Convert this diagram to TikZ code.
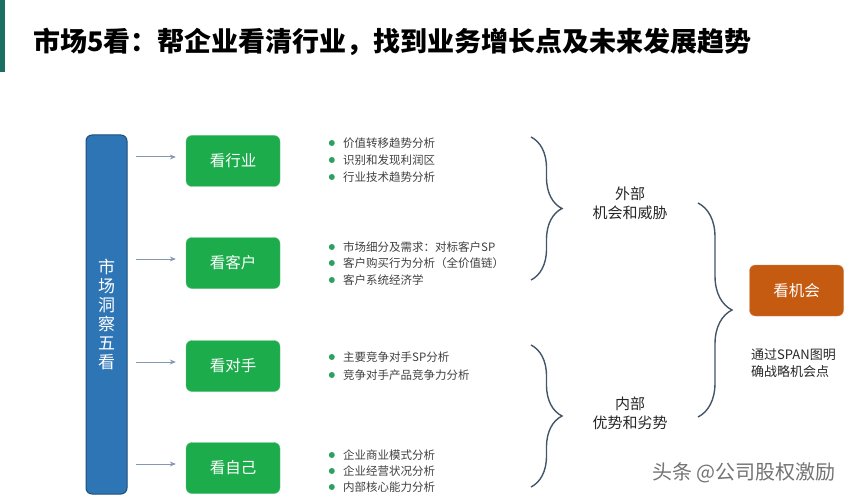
\documentclass[tikz,border=0pt]{standalone}
\usepackage{fontspec}
\setmainfont{Noto Sans CJK SC}
\usetikzlibrary{arrows.meta,calc,decorations.pathreplacing}
\definecolor{barteal}{RGB}{27,111,97}
\definecolor{barblue}{RGB}{46,117,182}
\definecolor{barline}{RGB}{31,78,121}
\definecolor{boxgreen}{RGB}{29,172,76}
\definecolor{dotgreen}{RGB}{46,160,96}
\definecolor{boxorange}{RGB}{197,90,17}
\definecolor{bracegray}{RGB}{68,84,106}
\definecolor{arrowgray}{RGB}{132,150,176}
\definecolor{itemgray}{RGB}{64,64,64}
\begin{document}
\begin{tikzpicture}[x=1pt, y=-1pt,
  look/.style={rectangle, fill=#1, draw=#1!75!white, rounded corners=6pt,
               minimum width=94pt, minimum height=51pt, text=white,
               font=\fontsize{15.5}{18}\selectfont},
  look/.default=boxgreen,
  item/.style={anchor=west, inner sep=0pt, text=itemgray,
               font=\fontsize{11.5}{14}\selectfont,
               label={[circle, fill=dotgreen, inner sep=0pt, minimum size=6pt, xshift=-8pt]left:{}}},
  side/.style={align=center, text=black!85, font=\fontsize{15}{19}\selectfont},
  arr/.style={-{Stealth[length=6pt, width=5pt]}, arrowgray, line width=1pt,
              shorten <=8pt, shorten >=10pt},
  brc/.style={decorate, decoration={brace, amplitude=#1}, bracegray, line width=1.4pt},
  brc/.default=31pt
]
  \useasboundingbox (0,0) rectangle (868,500);
  \fill[barteal] (0,0) rectangle (5,72);
  \node[anchor=west, inner sep=0pt, font=\fontsize{27}{30}\selectfont\bfseries] (title) at (33,42)
    {市场5看：帮企业看清行业，找到业务增长点及未来发展趋势};

  \node[rectangle, fill=barblue, draw=barline, line width=1pt, rounded corners=6pt,
        minimum width=41pt, minimum height=359pt, text=white, align=center,
        font=\fontsize{17}{19}\selectfont] (insight) at (106.5,314.5)
    {市\\场\\洞\\察\\五\\看};

  \node[look] (ind) at (233,161) {看行业};
  \node[look] (cust) at (233,263) {看客户};
  \node[look] (comp) at (233,366) {看对手};
  \node[look] (self) at (233,468) {看自己};

  \draw[arr] ($(insight.east |- ind.west)+(0,-4)$) -- ($(ind.west)+(0,-4)$);
  \draw[arr] ($(insight.east |- cust.west)+(0,-4)$) -- ($(cust.west)+(0,-4)$);
  \draw[arr] ($(insight.east |- comp.west)+(0,-4)$) -- ($(comp.west)+(0,-4)$);
  \draw[arr] ($(insight.east |- self.west)+(0,-4)$) -- ($(self.west)+(0,-4)$);

  % 要点
  \node[item] (i1) at (343,143) {价值转移趋势分析};
  \node[item] (i2) at (343,160) {识别和发现利润区};
  \node[item] (i3) at (343,177) {行业技术趋势分析};
  \node[item] (c1) at (343,247) {市场细分及需求：对标客户SP};
  \node[item] (c2) at (343,263) {客户购买行为分析（全价值链）};
  \node[item] (c3) at (343,280) {客户系统经济学};
  \node[item] (p1) at (343,357) {主要竞争对手SP分析};
  \node[item] (p2) at (343,375) {竞争对手产品竞争力分析};
  \node[item] (s1) at (343,455) {企业商业模式分析};
  \node[item] (s2) at (343,471) {企业经营状况分析};
  \node[item] (s3) at (343,487) {内部核心能力分析};

  % 括号
  \draw[brc] (531,137) -- (531,280);
  \draw[brc] (531,345) -- (531,487);
  \draw[brc=34pt] (698,203) -- (698,417);

  \node[side] (ext) at (630,203) {外部\\机会和威胁};
  \node[side] (int) at (630,413) {内部\\优势和劣势};

  \node[look=boxorange] (opp) at (796.5,290.5) {看机会};
  \node[anchor=west, align=left, inner sep=0pt, text=black!85,
        font=\fontsize{13}{17}\selectfont] (span) at (751,363)
    {通过SPAN图明\\确战略机会点};

  \node[anchor=west, inner sep=0pt, text=black!55, font=\fontsize{20}{22}\selectfont] (mark) at (652,473)
    {头条 @公司股权激励};
\end{tikzpicture}
\end{document}
